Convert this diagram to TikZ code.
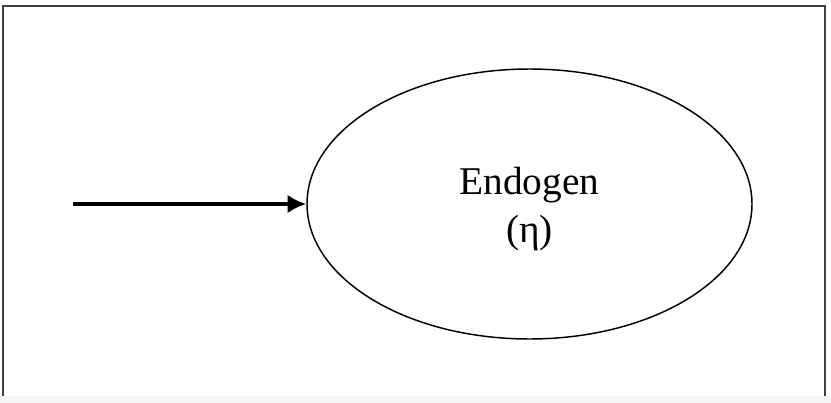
\documentclass[tikz,border=0pt]{standalone}
\usepackage{fontspec}
\setmainfont{Liberation Serif}
\usetikzlibrary{arrows.meta,shapes.geometric}
\begin{document}
\begin{tikzpicture}[x=0.75pt, y=-0.75pt, frame/.style={line width=1.8pt, draw=black!75}]
    \useasboundingbox (0,0) rectangle (831,403);
    \fill[black!4] (0,396) rectangle (831,403);
    \draw[frame] (3,396) -- (3,6) -- (825,6) -- (825,396);
    \node[ellipse, draw, line width=1.1pt, minimum width=333.75pt, minimum height=202.5pt, inner sep=0pt] (endo) at (529.5,204) {};
    \node[align=center, font=\fontsize{29.5}{36.5}\selectfont] (name) at (529.5,209) {Endogen\\(η)};
    \coordinate (src) at (73,204);
    \draw[line width=2.8pt, -{Latex[length=14pt,width=14pt]}] (src) -- (endo.west);
\end{tikzpicture}
\end{document}
